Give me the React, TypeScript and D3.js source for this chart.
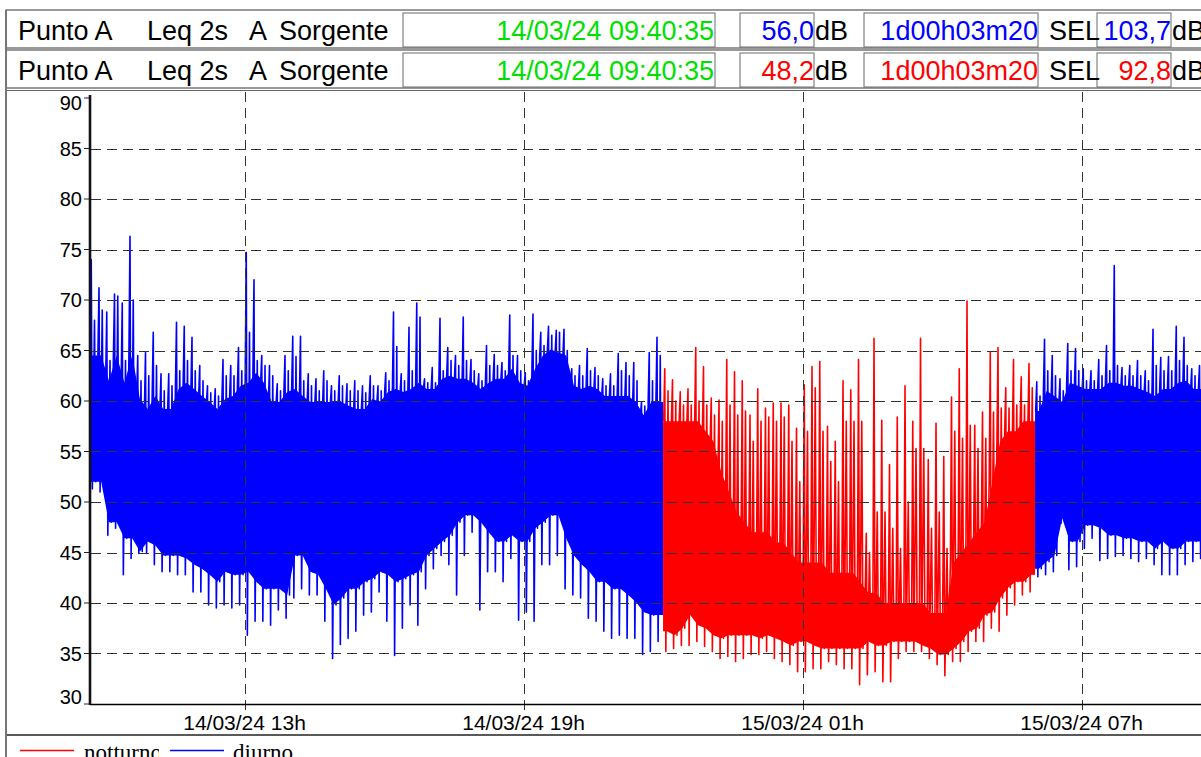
import React, { useEffect, useRef } from "react";
import * as d3 from "d3";

const WIDTH = 1201;
const HEIGHT = 757;

// Leq 2s time history, summarised in 10-minute bins starting 14/03/24 09:40
const binStart = new Date(2024, 2, 14, 9, 40);
const binMinutes = 10;
const recordStart = new Date(2024, 2, 14, 9, 40, 35);
const recordEnd = new Date(2024, 2, 15, 9, 43, 55);
const nightStart = new Date(2024, 2, 14, 22, 0);
const nightEnd = new Date(2024, 2, 15, 6, 0);

// highest spike in each bin (dB)
const peakDb = [
  74.0, 71.2, 68.8, 70.6, 69.7, 76.3, 64.5, 64.8, 66.8, 62.7,
  62.7, 67.8, 67.4, 66.3, 63.5, 61.5, 61.2, 64.1, 63.5, 65.3,
  74.7, 72.0, 64.5, 63.5, 61.7, 64.5, 66.4, 66.4, 62.7, 62.2,
  63.0, 61.5, 62.5, 61.7, 62.0, 61.5, 62.5, 61.5, 62.8, 68.8,
  62.7, 67.3, 69.7, 62.2, 63.3, 68.2, 65.3, 64.5, 68.3, 64.1,
  62.7, 65.5, 64.6, 63.8, 68.5, 64.5, 62.8, 68.6, 66.8, 67.4,
  67.0, 67.1, 63.2, 63.5, 65.2, 63.3, 62.2, 62.7, 64.7, 63.8,
  63.8, 59.9, 64.8, 66.3, 63.2, 62.1, 60.9, 61.2, 65.3, 63.4,
  60.3, 60.1, 64.1, 62.9, 62.0, 58.6, 61.2, 59.3, 59.8, 59.8,
  59.6, 57.3, 61.6, 63.4, 63.9, 57.5, 56.0, 62.0, 61.1, 64.1,
  46.9, 66.2, 58.1, 53.7, 58.4, 61.5, 58.0, 66.2, 54.2, 57.8,
  54.5, 60.4, 63.2, 69.9, 57.6, 58.9, 64.8, 65.3, 61.3, 64.1,
  62.4, 63.7, 61.9, 66.1, 64.5, 62.2, 65.7, 65.2, 63.2, 63.0,
  64.1, 65.5, 73.4, 63.3, 63.5, 64.0, 63.0, 67.1, 64.3, 64.4,
  67.4, 66.3, 63.2, 63.5,
];

// second visible spike in each bin (dB)
const spikeDb = [
  68.0, 69.0, 64.0, 70.4, 64.0, 70.0, 62.0, 62.5, 63.5, 61.0,
  61.5, 63.0, 64.0, 63.0, 62.0, 60.8, 60.5, 62.5, 62.5, 63.0,
  66.8, 64.0, 63.5, 62.5, 61.0, 63.0, 64.4, 62.0, 61.5, 61.0,
  62.0, 61.0, 61.5, 61.0, 61.0, 60.8, 61.5, 61.0, 62.0, 65.4,
  62.0, 63.0, 68.3, 61.8, 61.8, 63.0, 64.0, 63.5, 64.0, 63.0,
  62.0, 63.5, 63.5, 63.0, 64.5, 63.0, 62.0, 65.0, 65.5, 66.5,
  66.8, 65.0, 62.5, 62.5, 63.0, 62.5, 61.5, 61.5, 63.0, 62.5,
  62.0, 59.5, 62.0, 64.5, 61.0, 60.0, 59.6, 59.6, 60.0, 59.6,
  58.6, 58.0, 59.6, 58.6, 59.0, 56.0, 58.0, 58.4, 58.0, 58.4,
  56.0, 52.0, 57.0, 61.3, 57.0, 54.0, 52.0, 58.0, 58.0, 58.0,
  45.0, 49.0, 49.0, 47.4, 45.4, 50.0, 55.3, 55.3, 47.4, 49.0,
  45.4, 57.0, 56.3, 57.6, 55.3, 56.3, 58.9, 59.3, 59.3, 59.6,
  59.6, 61.3, 60.5, 63.0, 62.5, 61.0, 63.0, 63.0, 62.0, 62.0,
  62.5, 63.0, 63.5, 62.5, 62.5, 62.5, 62.0, 63.5, 63.0, 63.0,
  64.0, 63.5, 62.5, 62.5,
];

// top of the dense band (dB)
const bandTopDb = [
  64.5, 64.5, 62.0, 64.5, 61.8, 64.5, 60.2, 59.2, 60.5, 59.2,
  59.2, 61.2, 61.8, 61.2, 60.5, 59.9, 59.2, 60.2, 60.5, 61.5,
  61.8, 62.8, 61.8, 59.9, 59.9, 60.9, 61.2, 60.5, 59.9, 59.9,
  59.9, 59.9, 59.9, 59.5, 59.2, 59.2, 60.2, 59.9, 60.9, 61.2,
  60.9, 61.2, 61.8, 61.2, 61.2, 62.2, 62.5, 62.2, 62.2, 61.8,
  61.2, 61.8, 62.2, 62.2, 63.2, 61.8, 61.5, 63.2, 64.5, 65.1,
  64.8, 64.5, 61.5, 61.2, 61.5, 61.2, 60.5, 60.5, 60.5, 60.5,
  59.9, 58.6, 59.9, 59.9, 58.0, 58.0, 58.0, 58.0, 58.0, 57.0,
  56.0, 53.0, 51.0, 49.0, 48.0, 47.0, 47.0, 47.0, 46.0, 46.0,
  45.0, 44.0, 44.0, 44.0, 44.0, 43.0, 43.0, 43.0, 43.0, 42.0,
  41.0, 41.0, 40.0, 40.0, 40.0, 40.0, 40.0, 40.0, 39.0, 39.0,
  39.0, 44.0, 45.0, 46.0, 47.0, 48.0, 52.0, 56.0, 57.0, 57.0,
  58.0, 58.0, 59.0, 61.0, 60.5, 59.9, 61.8, 61.5, 61.2, 61.2,
  61.2, 61.8, 61.8, 61.5, 61.5, 61.2, 60.9, 60.5, 61.2, 61.2,
  61.8, 62.0, 61.2, 61.2,
];

// bottom of the dense band (dB)
const bandBottomDb = [
  52.0, 52.0, 48.0, 48.0, 46.4, 46.4, 45.1, 46.1, 45.7, 44.7,
  44.7, 44.7, 44.4, 43.8, 43.4, 42.8, 42.1, 43.1, 42.8, 42.8,
  43.1, 42.1, 41.4, 41.4, 41.4, 40.8, 44.7, 44.7, 43.1, 42.8,
  41.4, 39.8, 40.5, 41.4, 41.4, 42.1, 42.4, 43.1, 42.8, 42.1,
  42.4, 42.8, 43.1, 44.7, 45.4, 46.1, 46.7, 48.0, 48.7, 48.7,
  48.0, 47.0, 46.1, 46.1, 46.7, 46.1, 46.1, 47.4, 48.0, 48.7,
  48.7, 46.4, 44.7, 43.8, 43.1, 42.1, 42.1, 41.4, 41.4, 40.8,
  40.1, 39.1, 38.8, 38.8, 37.2, 36.8, 37.5, 38.8, 37.8, 37.5,
  36.8, 36.5, 36.8, 36.8, 36.8, 36.8, 36.5, 36.8, 36.5, 36.2,
  35.8, 36.2, 36.2, 35.8, 35.5, 35.5, 35.5, 35.5, 35.5, 35.5,
  36.2, 35.8, 35.8, 36.2, 36.2, 36.2, 36.2, 35.8, 35.5, 34.9,
  34.9, 35.5, 36.2, 37.2, 37.5, 38.8, 39.1, 40.5, 41.5, 42.1,
  42.1, 42.8, 43.4, 44.1, 44.7, 48.4, 46.1, 46.1, 47.7, 47.7,
  47.4, 46.7, 46.7, 46.4, 46.4, 46.1, 46.1, 45.4, 46.1, 45.4,
  45.4, 46.1, 46.1, 46.1,
];

// lowest dip in each bin (dB)
const dipDb = [
  51.3, 51.0, 46.7, 47.4, 42.8, 44.4, 44.9, 44.9, 43.8, 43.1,
  43.1, 42.8, 42.8, 41.1, 41.1, 39.8, 39.5, 39.8, 39.5, 39.8,
  36.8, 38.2, 38.2, 37.8, 39.3, 38.5, 40.5, 41.4, 40.8, 40.8,
  38.2, 34.5, 35.9, 36.5, 37.2, 38.8, 39.1, 41.1, 38.2, 34.8,
  37.5, 39.8, 37.8, 41.4, 43.4, 44.7, 43.8, 40.8, 44.7, 47.0,
  39.3, 43.1, 43.1, 42.1, 44.4, 38.3, 39.1, 38.2, 43.8, 43.8,
  44.7, 41.4, 40.8, 40.5, 38.5, 38.2, 37.2, 36.5, 36.8, 36.5,
  36.5, 34.9, 35.2, 36.2, 35.2, 35.5, 35.8, 35.8, 36.2, 35.7,
  35.2, 34.5, 34.7, 34.2, 34.5, 34.9, 34.9, 35.2, 34.5, 34.2,
  33.9, 33.2, 33.2, 33.5, 33.5, 34.2, 33.9, 33.5, 33.5, 31.9,
  32.9, 33.2, 32.2, 32.2, 34.5, 35.2, 35.2, 35.2, 34.5, 33.9,
  32.8, 34.2, 34.2, 35.2, 36.2, 36.2, 37.5, 37.2, 38.8, 39.8,
  40.8, 41.1, 42.6, 42.8, 43.1, 47.9, 43.3, 43.6, 45.4, 46.4,
  44.2, 44.4, 44.6, 44.7, 44.4, 44.1, 44.4, 43.8, 42.8, 42.8,
  42.8, 43.8, 44.1, 44.4,
];

const yTicks = [30, 35, 40, 45, 50, 55, 60, 65, 70, 75, 80, 85, 90];
const xTicks = [
  new Date(2024, 2, 14, 13),
  new Date(2024, 2, 14, 19),
  new Date(2024, 2, 15, 1),
  new Date(2024, 2, 15, 7),
];
const xTickLabels = ["14/03/24 13h", "14/03/24 19h", "15/03/24 01h", "15/03/24 07h"];

const headerDate = "14/03/24 09:40:35";
const headerLeq = ["56,0", "48,2"];
const headerDuration = ["1d00h03m20", "1d00h03m20"];
const headerSel = ["103,7", "92,8"];
const headerColors = ["#0000ff", "#ff0000"];

const legendLabels = ["notturno", "diurno"];
const legendColors = ["#ff0000", "#0000ff"];

const DAY = "#0000ff";
const NIGHT = "#ff0000";
const SANS = "'Liberation Sans', Arial, sans-serif";
const SERIF = "'Liberation Serif', 'Times New Roman', serif";

const HeaderRow = ({ row, top }: { row: number; top: number }) => {
  const base = top + 29.5;
  const color = headerColors[row];
  const boxes = [
    [403, 715],
    [740, 814],
    [864, 1038],
    [1097, 1171],
  ];
  return (
    <g fontFamily={SANS} fontSize={27}>
      <rect x={6} y={top} width={1210} height={38} fill="#fff" stroke="#555" strokeWidth={1.2} />
      {boxes.map(([a, b], i) => (
        <rect key={i} x={a} y={top + 3} width={b - a} height={34} fill="#fff" stroke="#6a6a6a" strokeWidth={1} />
      ))}
      <text x={18} y={base}>Punto A</text>
      <text x={147} y={base}>Leq 2s</text>
      <text x={249} y={base}>A</text>
      <text x={279} y={base}>Sorgente</text>
      <text x={714} y={base} textAnchor="end" fill="#00e000">{headerDate}</text>
      <text x={814} y={base} textAnchor="end" fill={color}>{headerLeq[row]}</text>
      <text x={815} y={base}>dB</text>
      <text x={1038} y={base} textAnchor="end" fill={color}>{headerDuration[row]}</text>
      <text x={1049} y={base}>SEL</text>
      <text x={1171} y={base} textAnchor="end" fill={color}>{headerSel[row]}</text>
      <text x={1172} y={base}>dB</text>
    </g>
  );
};

export default function App() {
  const plotRef = useRef<SVGGElement>(null);

  useEffect(() => {
    const g = d3.select(plotRef.current);
    g.selectAll("*").remove();

    const x = d3.scaleTime().domain([recordStart, recordEnd]).range([90, 1208.6]);
    const y = d3.scaleLinear().domain([30, 90]).range([704, 98]);

    g.append("defs")
      .append("clipPath")
      .attr("id", "plot-clip")
      .append("rect")
      .attr("x", 91)
      .attr("y", 92)
      .attr("width", 1110)
      .attr("height", 612);

    const bins = peakDb.map((peak, i) => ({
      t: new Date(+binStart + i * binMinutes * 60000),
      peak,
      spike: spikeDb[i],
      top: bandTopDb[i],
      bottom: bandBottomDb[i],
      dip: dipDb[i],
    }));
    type Bin = typeof bins[number];
    const at = (b: Bin, f: number) => new Date(+b.t + f * binMinutes * 60000);
    const isNight = (b: Bin) => b.t >= nightStart && b.t < nightEnd;

    const segments: { night: boolean; bins: Bin[] }[] = [];
    bins.forEach((b) => {
      const last = segments[segments.length - 1];
      if (!last || last.night !== isNight(b)) segments.push({ night: isNight(b), bins: [b] });
      else last.bins.push(b);
    });

    const data = g.append("g").attr("clip-path", "url(#plot-clip)");

    const area = d3
      .area<{ t: Date; top: number; bottom: number }>()
      .x((d) => x(d.t))
      .y0((d) => y(d.bottom))
      .y1((d) => y(d.top));

    const line = d3
      .line<{ t: Date; v: number }>()
      .x((d) => x(d.t))
      .y((d) => y(d.v));

    segments.forEach((seg) => {
      const color = seg.night ? NIGHT : DAY;
      const first = seg.bins[0];
      const last = seg.bins[seg.bins.length - 1];
      const band = [
        { t: at(first, 0), top: first.top, bottom: first.bottom },
        ...seg.bins.map((b) => ({ t: at(b, 0.5), top: b.top, bottom: b.bottom })),
        { t: at(last, 1), top: last.top, bottom: last.bottom },
      ];
      data.append("path").attr("d", area(band)).attr("fill", color);

      const hair = seg.bins.flatMap((b) => [
        { t: at(b, 0.08), v: b.top },
        { t: at(b, 0.22), v: b.peak },
        { t: at(b, 0.36), v: b.dip },
        { t: at(b, 0.64), v: b.spike },
        { t: at(b, 0.8), v: b.bottom },
      ]);
      data
        .append("path")
        .attr("d", line(hair))
        .attr("fill", "none")
        .attr("stroke", color)
        .attr("stroke-width", 1.6)
        .attr("stroke-linejoin", "round");
    });

    // dashed grid, drawn over the trace
    const grid = g.append("g").attr("stroke", "#333").attr("stroke-width", 1).attr("stroke-dasharray", "10,6");
    grid
      .selectAll("line.h")
      .data(yTicks.filter((v) => v > 30 && v < 90))
      .join("line")
      .attr("class", "h")
      .attr("x1", 91)
      .attr("x2", WIDTH)
      .attr("y1", (d) => Math.round(y(d)) + 0.5)
      .attr("y2", (d) => Math.round(y(d)) + 0.5);
    grid
      .selectAll("line.v")
      .data(xTicks)
      .join("line")
      .attr("class", "v")
      .attr("x1", (d) => Math.round(x(d)) + 0.5)
      .attr("x2", (d) => Math.round(x(d)) + 0.5)
      .attr("y1", 92)
      .attr("y2", 711);

    // axes
    g.append("line")
      .attr("x1", 90)
      .attr("x2", WIDTH)
      .attr("y1", 704.5)
      .attr("y2", 704.5)
      .attr("stroke", "#000")
      .attr("stroke-width", 1.3);
    g.append("line")
      .attr("x1", 90)
      .attr("x2", 90)
      .attr("y1", 95)
      .attr("y2", 705)
      .attr("stroke", "#111")
      .attr("stroke-width", 2.6);

    const yAxis = g.append("g").attr("font-family", SANS).attr("font-size", 20);
    yTicks.forEach((v) => {
      const py = y(v);
      yAxis
        .append("line")
        .attr("x1", 84)
        .attr("x2", 89)
        .attr("y1", py)
        .attr("y2", py)
        .attr("stroke", "#222")
        .attr("stroke-width", 1);
      const base = v === 90 ? py + 12 : v === 30 ? py : py + 7.2;
      yAxis.append("text").attr("x", 82).attr("y", base).attr("text-anchor", "end").text(String(v));
    });

    const xAxis = g.append("g").attr("font-family", SANS).attr("font-size", 21);
    xTicks.forEach((t, i) => {
      xAxis
        .append("text")
        .attr("x", x(t))
        .attr("y", 730)
        .attr("text-anchor", "middle")
        .text(xTickLabels[i]);
    });
  }, []);

  return (
    <div style={{ width: WIDTH, height: HEIGHT, overflow: "hidden" }}>
      <style>{`body{margin:0}`}</style>
      <svg width={WIDTH} height={HEIGHT} style={{ display: "block", background: "#fff" }}>
        <defs>
          <clipPath id="legend-clip-0">
            <rect x={0} y={736} width={159} height={30} />
          </clipPath>
        </defs>
        <rect x={0} y={0} width={WIDTH} height={HEIGHT} fill="#fff" />
        <HeaderRow row={0} top={10} />
        <HeaderRow row={1} top={50} />
        <line x1={6} x2={WIDTH} y1={90.5} y2={90.5} stroke="#666" strokeWidth={1.2} />
        <line x1={6} x2={6} y1={10} y2={HEIGHT} stroke="#777" strokeWidth={2} />
        <g ref={plotRef} />
        <line x1={7} x2={WIDTH} y1={735} y2={735} stroke="#222" strokeWidth={1.5} />
        <g fontFamily={SERIF} fontSize={23}>
          {legendLabels.map((label, i) => (
            <g key={label} clipPath={i === 0 ? "url(#legend-clip-0)" : undefined}>
              <line x1={i === 0 ? 20 : 170} x2={i === 0 ? 74 : 224} y1={750.5} y2={750.5} stroke={legendColors[i]} strokeWidth={1.5} />
              <text x={i === 0 ? 84 : 233} y={760}>{label}</text>
            </g>
          ))}
        </g>
      </svg>
    </div>
  );
}
